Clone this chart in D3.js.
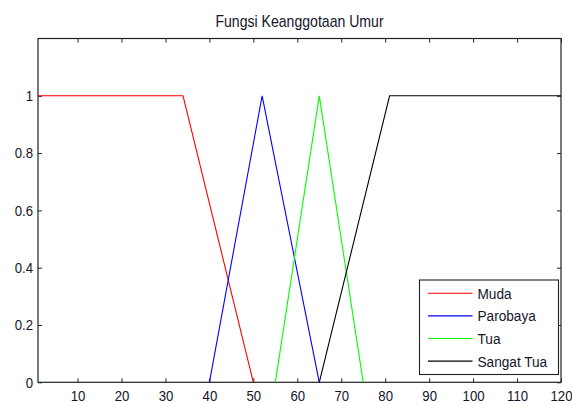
<!DOCTYPE html>
<html><head><meta charset="utf-8">
<script src="https://cdn.jsdelivr.net/npm/d3@7"></script>
<style>body{margin:0;background:#fff}svg{display:block}</style>
</head><body><svg id="c" width="572" height="403"></svg>
<script>
const title = "Fungsi Keanggotaan Umur";
const seriesNames = ["Muda","Parobaya","Tua","Sangat Tua"];
const seriesColors = ["#ff0000","#0000ff","#00ff00","#000000"];
const mudaX = [1,34,50], mudaY = [1,1,0];
const parobayaX = [40,52,65], parobayaY = [0,1,0];
const tuaX = [55,65,75], tuaY = [0,1,0];
const sangatX = [65,81,120], sangatY = [0,1,1];
const xTicks = [10,20,30,40,50,60,70,80,90,100,110,120];
const yTicks = [0,0.2,0.4,0.6,0.8,1];

const svg = d3.select("#c");
const L=38, R=561, T=38.5, B=382.3;
const SX = 0.88;
const x = d3.scaleLinear().domain([1,120]).range([L,R]);
const y = d3.scaleLinear().domain([0,1.2]).range([B,T]);
const font = "Liberation Sans, Arial, sans-serif";
const txtCol = "#15152a";

svg.append("text").attr("transform",`translate(${(L+R)/2},26.5) scale(${SX},1)`).attr("text-anchor","middle")
  .attr("font-family",font).attr("font-size",16).attr("fill",txtCol).text(title);

const gx = svg.append("g").attr("transform",`translate(0,${B})`)
  .call(d3.axisBottom(x).tickValues(xTicks).tickSize(-4).tickPadding(8).tickFormat(d3.format("d")));
const gy = svg.append("g").attr("transform",`translate(${L},0)`)
  .call(d3.axisLeft(y).tickValues(yTicks).tickSize(-4).tickPadding(5).tickFormat(d=>String(d)));
const gt = svg.append("g").attr("transform",`translate(0,${T})`)
  .call(d3.axisTop(x).tickValues(xTicks).tickSize(-4).tickFormat(""));
const gr = svg.append("g").attr("transform",`translate(${R},0)`)
  .call(d3.axisRight(y).tickValues(yTicks).tickSize(-4).tickFormat(""));
[gx,gy,gt,gr].forEach(g=>{
  g.select(".domain").remove();
  g.selectAll("line").attr("stroke","#222");
  g.selectAll("text").attr("font-family",font).attr("font-size",15).attr("fill",txtCol);
});
gx.selectAll(".tick text").attr("transform",`scale(${SX},1)`);
gy.selectAll(".tick text").attr("x",-5/SX).attr("transform",`scale(${SX},1)`);

svg.append("rect").attr("x",L).attr("y",T).attr("width",R-L).attr("height",B-T)
  .attr("fill","none").attr("stroke","#222").attr("stroke-width",1.2);

const data = [[mudaX,mudaY],[parobayaX,parobayaY],[tuaX,tuaY],[sangatX,sangatY]];
const line = d3.line().x(d=>x(d[0])).y(d=>y(d[1]));
data.forEach(([xs,ys],i)=>{
  svg.append("path").datum(xs.map((v,j)=>[v,ys[j]]))
    .attr("d",line).attr("fill","none").attr("stroke",seriesColors[i]).attr("stroke-width",1.1);
});

const lg = svg.append("g");
lg.append("rect").attr("x",419.5).attr("y",280).attr("width",139).attr("height",94.5)
  .attr("fill","#fff").attr("stroke","#222").attr("stroke-width",1.1);
seriesNames.forEach((n,i)=>{
  const yy = 293.3 + i*22.6;
  lg.append("line").attr("x1",428).attr("x2",472.5).attr("y1",yy).attr("y2",yy)
    .attr("stroke",seriesColors[i]).attr("stroke-width",1.1);
  lg.append("text").attr("transform",`translate(477.5,${yy}) scale(${SX},1)`).attr("dy","0.36em")
    .attr("font-family",font).attr("font-size",15.5).attr("fill",txtCol).text(n);
});
</script></body></html>
